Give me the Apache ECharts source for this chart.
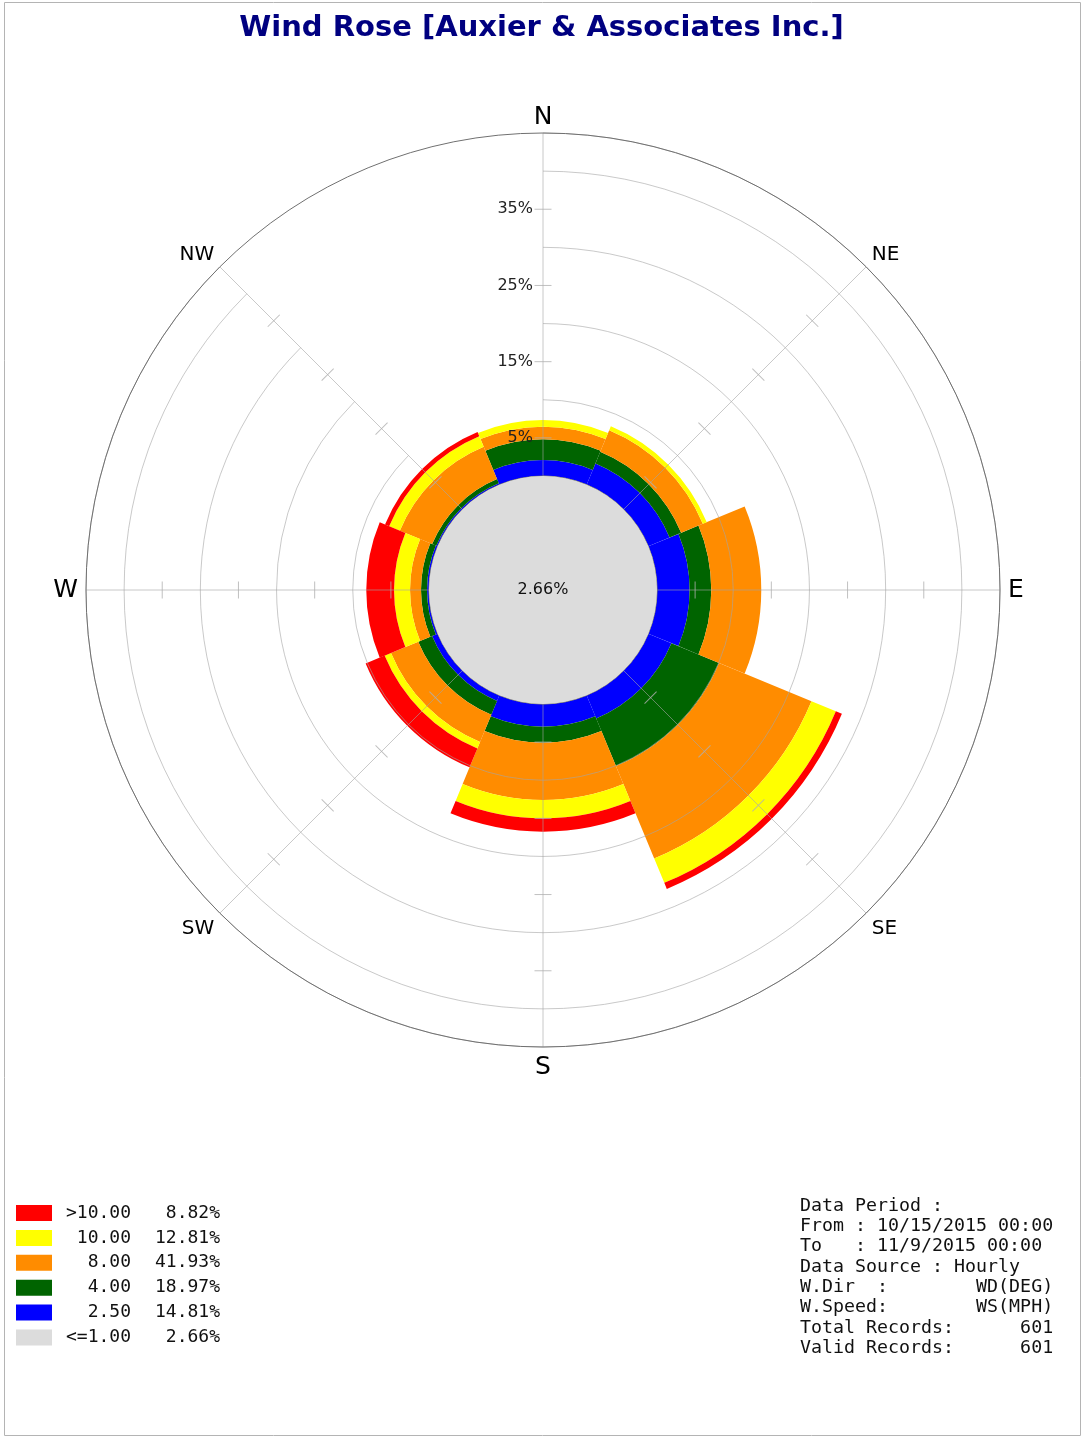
<!DOCTYPE html>
<html>
<head>
<meta charset="utf-8">
<title>Wind Rose</title>
<script src="https://cdn.jsdelivr.net/npm/echarts@6/dist/echarts.min.js"></script>
<style>
	html, body {
		margin: 0;
		padding: 0;
		background: #fff;
	}
	#main {
		width: 1083px;
		height: 1439px;
	}
</style>
</head>
<body>
<div id="main"></div>
<script>
	// directions (8 sectors of 45 deg)
	const dirNames = ['N', 'NE', 'E', 'SE', 'S', 'SW', 'W', 'NW'];

	// frequency (%) per direction for each speed class, inner to outer
	const ws250 = [2.10, 3.02, 4.28, 3.28, 2.98, 0.79, 0.26, 0.20];
	const ws400 = [2.71, 1.64, 2.84, 6.76, 2.10, 1.97, 0.79, 0.59];
	const ws800 = [1.66, 3.08, 6.56, 13.13, 7.52, 3.87, 1.44, 4.59];
	const ws1000 = [0.88, 0.56, 0.00, 3.46, 2.40, 0.91, 2.10, 1.51];
	const wsOver10 = [0.00, 0.00, 0.00, 0.86, 1.76, 2.69, 3.64, 0.59];

	// calm share drawn as the centre disc
	const calmPct = 2.66;

	// legend classes and their totals
	const classNames = ['>10.00', '10.00', '8.00', '4.00', '2.50', '<=1.00'];
	const classPct = [8.82, 12.81, 41.93, 18.97, 14.81, 2.66];

	// radius ticks / labels
	const radiusLabels = [5, 15, 25, 35];

	const infoLines = [
		'Data Period :',
		'From : 10/15/2015 00:00',
		'To   : 11/9/2015 00:00',
		'Data Source : Hourly',
		'W.Dir  :        WD(DEG)',
		'W.Speed:        WS(MPH)',
		'Total Records:      601',
		'Valid Records:      601'
	];

	const center = [543, 590];
	const innerR = 114;
	const outerR = 457;
	const gridColor = 'rgba(165,165,165,0.6)';
	const cardinal = ['N', 'E', 'S', 'W'];
	const topSide = ['N', 'NE', 'NW'];

	const chart = echarts.init(document.getElementById('main'));

	const pctOf = {};
	classNames.forEach((n, i) => { pctOf[n] = classPct[i]; });

	// cross ticks on each spoke
	const tickData = [];
	dirNames.forEach((d, i) => {
		radiusLabels.forEach(r => tickData.push([r, i]));
	});

	function speedBar(name, data, color) {
		return {
			name: name,
			type: 'bar',
			coordinateSystem: 'polar',
			polarIndex: 0,
			stack: 'ws',
			data: data,
			barCategoryGap: '0%',
			itemStyle: { color: color },
			silent: true,
			z: 2
		};
	}

	function dirLabel(v) {
		let key = cardinal.indexOf(v) >= 0 ? 'b' : 's';
		if (topSide.indexOf(v) >= 0) key += 't';
		return '{' + key + '|' + v + '}';
	}

	const option = {
		animation: false,
		title: {
			text: 'Wind Rose [Auxier & Associates Inc.]',
			left: 'center',
			top: 9,
			textStyle: {
				color: '#000080',
				fontFamily: '"Comic Sans MS", "DejaVu Sans", sans-serif',
				fontWeight: 'bold',
				fontSize: 29
			}
		},
		legend: {
			orient: 'vertical',
			left: 16,
			top: 1204,
			padding: 0,
			itemWidth: 36,
			itemHeight: 16,
			itemGap: 6.9,
			itemTextGap: 7,
			icon: 'rect',
			selectedMode: false,
			data: classNames,
			formatter: name => '{k|' + name + '}{p|' + pctOf[name].toFixed(2) + '%}',
			textStyle: {
				rich: {
					k: { width: 74, align: 'right', fontFamily: 'DejaVu Sans Mono', fontSize: 18, color: '#111', lineHeight: 16 },
					p: { width: 89, align: 'right', fontFamily: 'DejaVu Sans Mono', fontSize: 18, color: '#111', lineHeight: 16 }
				}
			}
		},
		polar: [
			{ center: center, radius: [innerR, outerR] },
			{ center: center, radius: [innerR, outerR] }
		],
		angleAxis: [
			{
				polarIndex: 0,
				type: 'category',
				data: dirNames,
				startAngle: 112.5,
				boundaryGap: true,
				show: false
			},
			{
				polarIndex: 1,
				type: 'category',
				data: dirNames,
				startAngle: 90,
				boundaryGap: false,
				zlevel: 1,
				z: 10,
				axisLine: { show: true, lineStyle: { color: '#707070', width: 1 } },
				axisTick: { show: false },
				splitLine: { show: true, lineStyle: { color: gridColor, width: 1 } },
				axisLabel: {
					margin: 8,
					color: '#000',
					formatter: dirLabel,
					rich: {
						b: { fontSize: 25, fontFamily: 'DejaVu Sans', color: '#000' },
						bt: { fontSize: 25, fontFamily: 'DejaVu Sans', color: '#000', lineHeight: 15 },
						s: { fontSize: 20, fontFamily: 'DejaVu Sans', color: '#000' },
						st: { fontSize: 20, fontFamily: 'DejaVu Sans', color: '#000', lineHeight: 12 }
					}
				}
			}
		],
		radiusAxis: [
			{
				polarIndex: 0,
				type: 'value',
				min: 0,
				max: 45,
				show: false
			},
			{
				polarIndex: 1,
				type: 'value',
				min: 0,
				max: 45,
				interval: 10,
				zlevel: 1,
				z: 10,
				axisLine: { show: false },
				axisTick: { show: false },
				splitLine: { show: true, lineStyle: { color: gridColor, width: 1 } },
				axisLabel: {
					customValues: radiusLabels,
					formatter: '{value}%',
					margin: 10,
					fontSize: 16,
					fontFamily: 'DejaVu Sans',
					color: '#222'
				}
			}
		],
		series: [
			speedBar('2.50', ws250, '#0000ff'),
			speedBar('4.00', ws400, '#006400'),
			speedBar('8.00', ws800, '#ff8c00'),
			speedBar('10.00', ws1000, '#ffff00'),
			speedBar('>10.00', wsOver10, '#ff0000'),
			{
				type: 'scatter',
				coordinateSystem: 'polar',
				polarIndex: 1,
				data: tickData,
				symbol: 'rect',
				symbolSize: [17, 1],
				symbolRotate: val => -val[1] * 45,
				itemStyle: { color: '#b0b0b0' },
				silent: true,
				zlevel: 1,
				z: 11
			},
			{
				type: 'pie',
				center: center,
				radius: [0, innerR],
				silent: true,
				zlevel: 1,
				z: 12,
				emphasis: { disabled: true },
				labelLine: { show: false },
				label: {
					position: 'center',
					formatter: '{c}%',
					fontSize: 16,
					fontFamily: 'DejaVu Sans',
					color: '#111'
				},
				data: [{ name: '<=1.00', value: calmPct, itemStyle: { color: '#dcdcdc' } }]
			}
		],
		graphic: [
			{
				type: 'rect',
				shape: { x: 4.5, y: 2.5, width: 1076, height: 1433 },
				style: { fill: 'none', stroke: '#b4b4b4', lineWidth: 1 },
				silent: true
			},
			{
				type: 'text',
				left: 800,
				top: 1196,
				style: {
					text: infoLines.join('\n'),
					font: '18.3px "DejaVu Sans Mono"',
					lineHeight: 20.3,
					fill: '#111'
				},
				silent: true
			}
		]
	};

	chart.setOption(option);
</script>
</body>
</html>
